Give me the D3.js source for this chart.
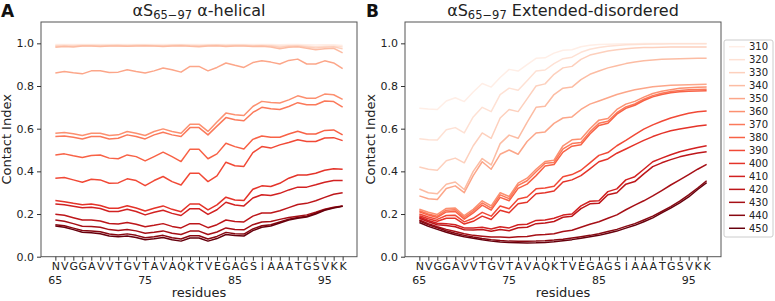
<!DOCTYPE html>
<html>
<head>
<meta charset="utf-8">
<script src="https://cdn.jsdelivr.net/npm/d3@7"></script>
<style>
  body { margin: 0; background: #fff; }
  svg { font-family: "DejaVu Sans", sans-serif; }
</style>
</head>
<body>
<svg id="chart" width="775" height="301"></svg>
<script>
// residues 65-97 of alpha-synuclein
const residues = "NVGGAVVTGVTAVAQKTVEGAGSIAAATGSVKK".split("");
const residueNumbers = d3.range(65, 98);
const numberTicks = [65, 75, 85, 95];
const yTicks = [0, 0.2, 0.4, 0.6, 0.8, 1.0];
const temperatures = [310, 320, 330, 340, 350, 360, 370, 380, 390, 400, 410, 420, 430, 440, 450];

// panel A : alpha-helical
const hel310 = [0.995,0.995,0.994,0.995,0.995,0.995,0.995,0.995,0.995,0.995,0.995,0.995,0.994,0.995,0.995,0.995,0.994,0.995,0.995,0.995,0.995,0.995,0.994,0.994,0.994,0.993,0.994,0.994,0.993,0.992,0.993,0.993,0.990];
const hel320 = [0.990,0.991,0.990,0.992,0.992,0.991,0.992,0.992,0.991,0.992,0.992,0.991,0.990,0.992,0.992,0.991,0.990,0.992,0.992,0.991,0.992,0.992,0.990,0.991,0.990,0.987,0.989,0.990,0.987,0.984,0.986,0.988,0.983];
const hel330 = [0.986,0.988,0.986,0.989,0.989,0.988,0.989,0.990,0.988,0.990,0.990,0.989,0.988,0.990,0.991,0.989,0.988,0.990,0.991,0.989,0.990,0.990,0.988,0.989,0.987,0.982,0.986,0.988,0.983,0.978,0.982,0.984,0.974];
const hel340 = [0.982,0.985,0.983,0.987,0.987,0.985,0.987,0.988,0.986,0.988,0.989,0.987,0.985,0.988,0.989,0.986,0.984,0.988,0.989,0.985,0.987,0.988,0.985,0.986,0.983,0.975,0.982,0.984,0.977,0.970,0.975,0.977,0.955];
const hel350 = [0.861,0.868,0.862,0.857,0.871,0.871,0.863,0.865,0.876,0.868,0.861,0.871,0.884,0.876,0.865,0.892,0.892,0.871,0.887,0.908,0.897,0.887,0.910,0.918,0.912,0.903,0.920,0.926,0.903,0.903,0.918,0.908,0.881];
const hel360 = [0.579,0.582,0.576,0.568,0.579,0.579,0.568,0.571,0.587,0.579,0.568,0.587,0.599,0.587,0.579,0.621,0.621,0.587,0.631,0.673,0.665,0.662,0.704,0.728,0.723,0.720,0.735,0.754,0.743,0.743,0.762,0.759,0.737];
const hel370 = [0.563,0.566,0.560,0.552,0.563,0.563,0.552,0.555,0.571,0.563,0.552,0.571,0.583,0.571,0.563,0.605,0.605,0.571,0.612,0.652,0.642,0.637,0.676,0.700,0.693,0.690,0.704,0.722,0.712,0.712,0.730,0.727,0.701];
const hel380 = [0.477,0.482,0.473,0.465,0.474,0.477,0.462,0.459,0.477,0.469,0.449,0.469,0.490,0.469,0.446,0.504,0.504,0.459,0.482,0.532,0.516,0.505,0.550,0.566,0.560,0.560,0.575,0.588,0.575,0.575,0.592,0.594,0.571];
const hel390 = [0.368,0.371,0.360,0.349,0.363,0.360,0.344,0.346,0.365,0.357,0.333,0.357,0.376,0.352,0.336,0.391,0.391,0.352,0.379,0.443,0.426,0.423,0.488,0.516,0.509,0.524,0.535,0.548,0.540,0.540,0.556,0.558,0.544];
const hel400 = [0.263,0.258,0.250,0.243,0.247,0.240,0.227,0.227,0.239,0.228,0.214,0.227,0.238,0.222,0.211,0.247,0.247,0.219,0.243,0.279,0.266,0.263,0.316,0.332,0.329,0.344,0.368,0.383,0.383,0.391,0.405,0.412,0.410];
const hel410 = [0.247,0.243,0.236,0.229,0.232,0.226,0.212,0.212,0.222,0.212,0.196,0.208,0.218,0.203,0.193,0.225,0.225,0.198,0.220,0.255,0.242,0.238,0.275,0.290,0.287,0.297,0.313,0.326,0.326,0.337,0.349,0.357,0.357];
const hel420 = [0.199,0.194,0.183,0.172,0.172,0.167,0.156,0.153,0.160,0.152,0.140,0.147,0.155,0.142,0.135,0.155,0.155,0.136,0.150,0.172,0.165,0.163,0.190,0.205,0.205,0.215,0.230,0.245,0.250,0.262,0.278,0.293,0.300];
const hel430 = [0.172,0.166,0.155,0.143,0.142,0.138,0.127,0.123,0.128,0.121,0.110,0.115,0.121,0.110,0.104,0.120,0.120,0.104,0.116,0.135,0.128,0.126,0.150,0.163,0.165,0.175,0.184,0.190,0.196,0.208,0.222,0.232,0.238];
const hel440 = [0.150,0.145,0.134,0.123,0.121,0.117,0.106,0.102,0.107,0.100,0.089,0.094,0.100,0.089,0.083,0.098,0.098,0.083,0.095,0.114,0.108,0.106,0.130,0.145,0.150,0.163,0.176,0.184,0.190,0.204,0.220,0.230,0.237];
const hel450 = [0.144,0.138,0.127,0.115,0.112,0.108,0.097,0.093,0.097,0.090,0.079,0.084,0.090,0.079,0.073,0.088,0.088,0.073,0.085,0.104,0.099,0.097,0.122,0.138,0.144,0.158,0.172,0.180,0.186,0.200,0.218,0.228,0.236];

// panel B : extended-disordered
const dis310 = [0.696,0.692,0.690,0.730,0.745,0.727,0.772,0.812,0.795,0.840,0.878,0.870,0.900,0.930,0.932,0.954,0.968,0.970,0.984,0.991,0.994,0.996,0.997,0.998,0.998,0.999,0.999,0.999,0.999,0.999,0.999,0.999,0.999];
const dis320 = [0.553,0.548,0.547,0.595,0.605,0.580,0.655,0.700,0.680,0.760,0.790,0.780,0.825,0.870,0.875,0.905,0.928,0.935,0.958,0.972,0.980,0.986,0.990,0.993,0.995,0.996,0.997,0.997,0.998,0.998,0.998,0.998,0.998];
const dis330 = [0.420,0.410,0.405,0.450,0.462,0.440,0.520,0.580,0.555,0.650,0.690,0.680,0.740,0.800,0.810,0.855,0.885,0.892,0.925,0.945,0.955,0.964,0.970,0.975,0.978,0.980,0.981,0.982,0.983,0.983,0.983,0.983,0.983];
const dis340 = [0.317,0.300,0.295,0.340,0.350,0.315,0.400,0.460,0.430,0.530,0.570,0.555,0.630,0.700,0.705,0.760,0.790,0.795,0.830,0.855,0.870,0.885,0.895,0.905,0.912,0.918,0.922,0.925,0.927,0.928,0.929,0.930,0.930];
const dis350 = [0.285,0.272,0.268,0.320,0.332,0.300,0.380,0.445,0.410,0.480,0.500,0.480,0.540,0.580,0.585,0.625,0.650,0.655,0.690,0.715,0.730,0.745,0.760,0.772,0.782,0.790,0.796,0.800,0.803,0.805,0.806,0.807,0.808];
const dis360 = [0.222,0.208,0.198,0.226,0.228,0.192,0.222,0.262,0.238,0.300,0.282,0.345,0.368,0.410,0.446,0.452,0.520,0.548,0.552,0.600,0.640,0.648,0.690,0.715,0.728,0.748,0.765,0.775,0.783,0.789,0.792,0.794,0.795];
const dis370 = [0.215,0.200,0.190,0.218,0.220,0.184,0.214,0.252,0.228,0.290,0.272,0.334,0.356,0.398,0.438,0.442,0.505,0.530,0.535,0.585,0.625,0.635,0.675,0.702,0.716,0.738,0.755,0.766,0.774,0.779,0.782,0.784,0.785];
const dis380 = [0.210,0.195,0.184,0.210,0.212,0.176,0.205,0.242,0.218,0.278,0.262,0.320,0.340,0.380,0.425,0.432,0.490,0.518,0.525,0.575,0.615,0.625,0.668,0.695,0.710,0.732,0.749,0.760,0.768,0.773,0.776,0.777,0.778];
const dis390 = [0.200,0.186,0.175,0.193,0.194,0.163,0.180,0.208,0.190,0.238,0.225,0.270,0.280,0.318,0.322,0.330,0.375,0.385,0.405,0.440,0.475,0.488,0.520,0.545,0.572,0.598,0.618,0.635,0.650,0.662,0.672,0.679,0.683];
const dis400 = [0.192,0.178,0.166,0.180,0.180,0.153,0.166,0.190,0.174,0.218,0.206,0.248,0.255,0.295,0.300,0.308,0.350,0.360,0.380,0.412,0.445,0.458,0.485,0.505,0.525,0.545,0.563,0.578,0.590,0.598,0.606,0.613,0.617];
const dis410 = [0.186,0.170,0.157,0.155,0.150,0.135,0.135,0.138,0.130,0.140,0.135,0.150,0.152,0.170,0.172,0.180,0.195,0.200,0.238,0.260,0.262,0.305,0.318,0.360,0.375,0.410,0.445,0.462,0.478,0.492,0.502,0.512,0.520];
const dis420 = [0.180,0.164,0.150,0.146,0.140,0.126,0.125,0.127,0.119,0.127,0.122,0.136,0.138,0.155,0.158,0.165,0.185,0.190,0.225,0.248,0.250,0.290,0.300,0.340,0.352,0.388,0.422,0.440,0.455,0.468,0.478,0.486,0.492];
const dis430 = [0.172,0.155,0.140,0.128,0.118,0.108,0.100,0.096,0.092,0.092,0.090,0.094,0.095,0.102,0.104,0.108,0.118,0.124,0.138,0.152,0.164,0.180,0.196,0.220,0.242,0.262,0.285,0.310,0.336,0.360,0.385,0.410,0.433];
const dis440 = [0.168,0.150,0.136,0.122,0.110,0.100,0.092,0.085,0.080,0.076,0.073,0.072,0.072,0.073,0.075,0.078,0.082,0.088,0.094,0.100,0.108,0.118,0.128,0.142,0.155,0.172,0.190,0.212,0.235,0.260,0.290,0.322,0.356];
const dis450 = [0.160,0.142,0.128,0.115,0.103,0.094,0.086,0.079,0.073,0.069,0.066,0.065,0.064,0.065,0.067,0.070,0.075,0.080,0.086,0.093,0.100,0.110,0.120,0.134,0.147,0.164,0.182,0.205,0.228,0.252,0.280,0.315,0.347];

const helical = [hel310, hel320, hel330, hel340, hel350, hel360, hel370, hel380, hel390, hel400, hel410, hel420, hel430, hel440, hel450];
const disordered = [dis310, dis320, dis330, dis340, dis350, dis360, dis370, dis380, dis390, dis400, dis410, dis420, dis430, dis440, dis450];

const width = 316, height = 234.7;
const svg = d3.select("#chart");

const x = d3.scaleLinear().domain([63.4, 98.6]).range([0, width]);
const y = d3.scaleLinear().domain([0, 1.1]).range([height, 0]);
const color = (i) => d3.interpolateReds(0.04 + 0.96 * i / (temperatures.length - 1));

const line = d3.line()
  .x((d, i) => x(residueNumbers[i]))
  .y((d) => y(d));

function drawPanel(left, series, letter, titleRest, letterX) {
  const g = svg.append("g").attr("transform", `translate(${left}, 22)`);

  // lines
  series.forEach((s, i) => {
    g.append("path")
      .datum(s)
      .attr("d", line)
      .attr("fill", "none")
      .attr("stroke", color(i))
      .attr("stroke-width", 1.5)
      .attr("stroke-linejoin", "round");
  });

  // frame
  g.append("rect")
    .attr("width", width)
    .attr("height", height)
    .attr("fill", "none")
    .attr("stroke", "#555")
    .attr("stroke-width", 1);

  // y axis
  const yAxis = g.append("g").call(d3.axisLeft(y).tickValues(yTicks).tickFormat(d3.format(".1f")).tickSize(4).tickPadding(3));
  yAxis.select(".domain").remove();
  yAxis.selectAll("line").attr("stroke", "#333");
  yAxis.selectAll("text").attr("font-size", 11).attr("fill", "#222").attr("font-family", "DejaVu Sans");

  // x axis with residue letters
  const xAxis = g.append("g")
    .attr("transform", `translate(0, ${height})`)
    .call(d3.axisBottom(x).tickValues(residueNumbers).tickFormat((d, i) => residues[i]).tickSize(4).tickPadding(2));
  xAxis.select(".domain").remove();
  xAxis.selectAll("line").attr("stroke", "#333");
  xAxis.selectAll("text").attr("font-size", 11).attr("fill", "#222").attr("font-family", "DejaVu Sans");

  // residue numbers
  g.selectAll(".num")
    .data(numberTicks)
    .enter()
    .append("text")
    .attr("x", (d) => x(d))
    .attr("y", height + 27)
    .attr("text-anchor", "middle")
    .attr("font-size", 11)
    .attr("fill", "#222")
    .text((d) => d);

  g.append("text")
    .attr("x", width / 2)
    .attr("y", height + 40.5)
    .attr("text-anchor", "middle")
    .attr("font-size", 13)
    .attr("fill", "#222")
    .text("residues");

  g.append("text")
    .attr("transform", `translate(-30, ${height / 2}) rotate(-90)`)
    .attr("text-anchor", "middle")
    .attr("font-size", 13)
    .attr("fill", "#222")
    .text("Contact Index");

  // title
  const title = g.append("text")
    .attr("x", width / 2)
    .attr("y", -6)
    .attr("text-anchor", "middle")
    .attr("font-size", 16)
    .attr("fill", "#222");
  title.append("tspan").text("αS");
  title.append("tspan").attr("font-size", 11.5).attr("dy", 3).text("65−97");
  title.append("tspan").attr("dy", -3).text(" " + titleRest);

  svg.append("text")
    .attr("x", letterX)
    .attr("y", 17)
    .attr("font-size", 17)
    .attr("font-weight", "bold")
    .attr("fill", "#111")
    .text(letter);
}

drawPanel(41, helical, "A", "α-helical", 1);
drawPanel(405, disordered, "B", "Extended-disordered", 366);

// legend
const legend = svg.append("g").attr("transform", "translate(724, 40)");
legend.append("rect")
  .attr("width", 49)
  .attr("height", 197)
  .attr("rx", 2)
  .attr("fill", "#fff")
  .attr("stroke", "#ccc");
temperatures.forEach((t, i) => {
  const yy = 6.7 + i * 12.97;
  legend.append("line")
    .attr("x1", 5).attr("x2", 21)
    .attr("y1", yy).attr("y2", yy)
    .attr("stroke", color(i))
    .attr("stroke-width", 1.5);
  legend.append("text")
    .attr("x", 44)
    .attr("y", yy + 3.5)
    .attr("text-anchor", "end")
    .attr("font-size", 10)
    .attr("fill", "#222")
    .text(t);
});
</script>
</body>
</html>
